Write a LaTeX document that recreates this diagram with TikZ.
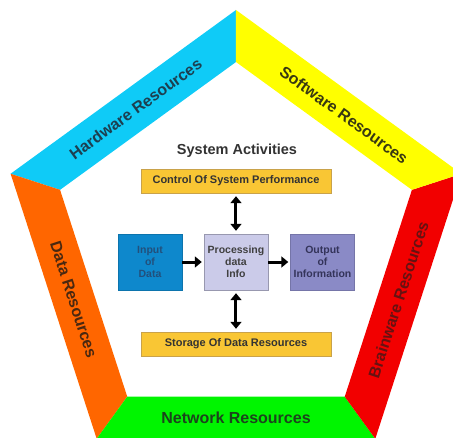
\documentclass[tikz,border=0pt]{standalone}
\usepackage{fontspec}
\setmainfont{Liberation Sans}
\usetikzlibrary{arrows.meta}

\definecolor{hwcyan}{HTML}{0FCBF7}
\definecolor{swyellow}{HTML}{FFFF00}
\definecolor{brred}{HTML}{F20000}
\definecolor{netgreen}{HTML}{00F500}
\definecolor{dataorange}{HTML}{FF6600}
\definecolor{hwtext}{HTML}{1D3F50}
\definecolor{swtext}{HTML}{383812}
\definecolor{brtext}{HTML}{661212}
\definecolor{nettext}{HTML}{1C441C}
\definecolor{datatext}{HTML}{4A2810}
\definecolor{boxgold}{HTML}{F9C634}
\definecolor{goldline}{HTML}{C9A24A}
\definecolor{inblue}{HTML}{0E88CC}
\definecolor{intext}{HTML}{22507C}
\definecolor{procpale}{HTML}{CBCBE9}
\definecolor{outlav}{HTML}{8A8AC6}
\definecolor{outtext}{HTML}{34345A}

\tikzset{
	band/.style={font=\bfseries\fontsize{16}{19}\selectfont},
	actbox/.style={draw=goldline, fill=boxgold, minimum width=190pt, minimum height=24pt, inner sep=0pt, font=\bfseries\fontsize{11}{13}\selectfont, text=black!80},
	stagebox/.style={minimum width=64pt, minimum height=56pt, inner sep=0pt, align=center, font=\bfseries\fontsize{10.5}{12}\selectfont},
	flow/.style={line width=3pt, -{Triangle[length=7pt,width=11pt]}, shorten >=2pt},
	biflow/.style={line width=3pt, {Triangle[length=7pt,width=11pt]}-{Triangle[length=7pt,width=11pt]}, shorten >=3pt, shorten <=3pt}
}

\begin{document}
\begin{tikzpicture}[x=1pt, y=1pt]
		
		\useasboundingbox (-236,-190) rectangle (217,247);
		\clip (-236,-190) rectangle (217,247);
		
		% the five resource bands
		\foreach \a/\c in {90/hwcyan, 162/dataorange, 234/netgreen, 306/brred, 18/swyellow}
			\fill [\c] (\a:237) -- ({\a+72}:237) -- ({\a+72}:185) -- (\a:185) -- cycle;
		
		\node [band, text=hwtext, rotate=36] (hw) at (126:170.7) {Hardware Resources};
		\node [band, text=swtext, rotate=-36] (sw) at (108,132) {Software Resources};
		\node [band, text=brtext, rotate=72] (brain) at (-18:170.7) {Brainware Resources};
		\node [band, text=nettext] (net) at (-90:170.7) {Network Resources};
		\node [band, text=datatext, rotate=-72] (data) at (198:170.7) {Data Resources};
		
		% system activities
		\node [font=\bfseries\fontsize{14.5}{17}\selectfont, text=black!80] (title) at (1,96) {System Activities};
		\node [actbox] (ctrl) at (0,66) {Control Of System Performance};
		\node [actbox] (store) at (0,-97) {Storage Of Data Resources};
		
		\node [stagebox, fill=inblue, draw=inblue!85!black, text=intext] (in) at (-86,-15) {Input\\of\\Data};
		\node [stagebox, fill=procpale, draw=procpale!75!black, text=black!75] (proc) at (0,-15) {Processing\\data\\Info};
		\node [stagebox, fill=outlav, draw=outlav!85!black, text=outtext] (out) at (86.5,-15) {Output\\of\\Information};
		
		\draw [flow] (in) -- (proc);
		\draw [flow] (proc) -- (out);
		\draw [biflow] (ctrl) -- (proc);
		\draw [biflow] (proc) -- (store);
		
	\end{tikzpicture}
\end{document}
